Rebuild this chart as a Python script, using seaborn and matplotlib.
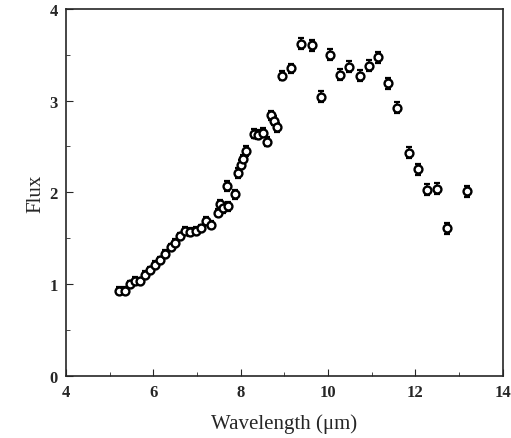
import numpy as np
import pandas as pd
import matplotlib
matplotlib.use("Agg")
import matplotlib.pyplot as plt
import seaborn as sns
from matplotlib.ticker import MultipleLocator

# Spectrum
wavelength = [5.22, 5.35, 5.47, 5.58, 5.70, 5.82, 5.93, 6.04, 6.15, 6.27,
              6.40, 6.50, 6.62, 6.73, 6.84, 6.97, 7.10, 7.20, 7.31, 7.47,
              7.52, 7.60, 7.68, 7.72, 7.86, 7.93, 8.01, 8.06, 8.13, 8.30,
              8.39, 8.50, 8.60, 8.69, 8.76, 8.83, 8.95, 9.16, 9.38, 9.63,
              9.84, 10.05, 10.28, 10.49, 10.74, 10.93, 11.14, 11.37, 11.58, 11.85,
              12.06, 12.27, 12.50, 12.73, 13.17]
flux = [0.93, 0.93, 1.00, 1.04, 1.03, 1.10, 1.15, 1.21, 1.26, 1.33,
        1.40, 1.45, 1.52, 1.58, 1.57, 1.58, 1.61, 1.69, 1.65, 1.78,
        1.87, 1.83, 2.07, 1.85, 1.98, 2.21, 2.30, 2.36, 2.45, 2.64,
        2.63, 2.65, 2.55, 2.84, 2.78, 2.71, 3.27, 3.35, 3.62, 3.60,
        3.04, 3.50, 3.28, 3.37, 3.27, 3.38, 3.47, 3.19, 2.92, 2.43,
        2.25, 2.03, 2.04, 1.61, 2.01]
flux_err = [0.04] * 20 + [0.05] * 18 + [0.06] * 17

df = pd.DataFrame({"wavelength": wavelength, "flux": flux, "err": flux_err})

sns.set_style("ticks")
plt.rcParams["font.family"] = ["Liberation Serif", "DejaVu Serif"]

fig = plt.figure(figsize=(5.11, 4.39), dpi=100)
ax = fig.add_axes([0.129, 0.141, 0.855, 0.837])

ax.errorbar(df["wavelength"], df["flux"], yerr=df["err"], fmt="none",
            ecolor="black", elinewidth=1.2, capsize=2.5, capthick=1.6, zorder=2)
sns.scatterplot(data=df, x="wavelength", y="flux", ax=ax, marker="o", s=32,
                facecolor="white", edgecolor="black", linewidth=1.7, zorder=3)

ax.set_xlim(4, 14)
ax.set_ylim(0, 4)
ax.xaxis.set_major_locator(MultipleLocator(2))
ax.xaxis.set_minor_locator(MultipleLocator(1))
ax.yaxis.set_major_locator(MultipleLocator(1))
ax.yaxis.set_minor_locator(MultipleLocator(0.5))
ax.tick_params(which="both", direction="in", top=False, right=False)
ax.tick_params(which="major", length=5, labelsize=12, pad=6)
ax.tick_params(which="minor", length=3)
for lab in ax.get_xticklabels() + ax.get_yticklabels():
    lab.set_fontweight("bold")
for sp in ax.spines.values():
    sp.set_visible(True)
    sp.set_linewidth(1.2)

ax.set_xlabel("Wavelength (\u03bcm)", fontsize=15, labelpad=9)
ax.set_ylabel("Flux", fontsize=15, labelpad=3)

fig.savefig("out.png", dpi=100)
